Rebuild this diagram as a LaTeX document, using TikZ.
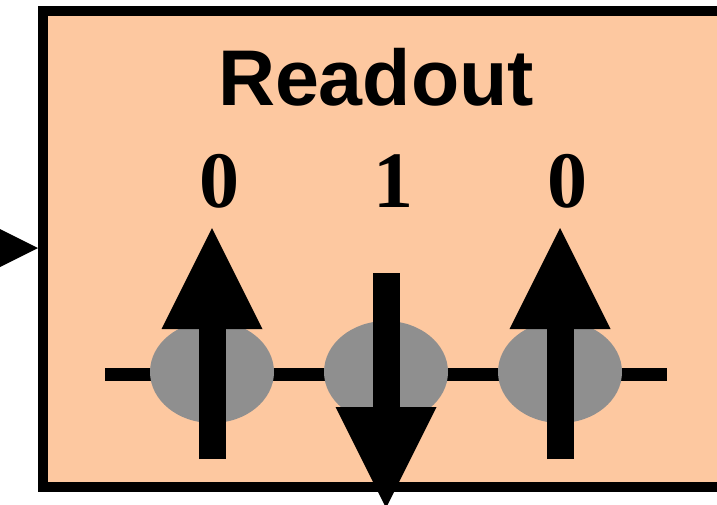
\documentclass[tikz,border=0pt]{standalone}
\usepackage{fontspec}
\newfontfamily\headfont{Liberation Sans}
\newfontfamily\digitfont{Liberation Serif}
\usetikzlibrary{arrows.meta,shapes.geometric}
\definecolor{peach}{RGB}{253,200,160}
\definecolor{spingray}{RGB}{143,143,143}
\tikzset{
  frame/.style={draw=black, line width=10pt, fill=peach},
  spinball/.style={ellipse, fill=spingray, minimum width=124pt, minimum height=102pt, inner sep=0pt},
  spinarrow/.style={line width=27pt, -{Triangle[width=101pt,length=101pt,line width=0pt]}},
  chain/.style={line width=13pt},
  digit/.style={font=\digitfont\bfseries\fontsize{80}{80}\selectfont, inner sep=0pt, anchor=base},
  title/.style={font=\headfont\bfseries\fontsize{79}{79}\selectfont, inner sep=0pt, anchor=base}
}
\begin{document}
\begin{tikzpicture}[x=1pt,y=-1pt]
\useasboundingbox (0,0) rectangle (717,504);
\draw[frame] (43,11) rectangle (724,487);
\node[title] (title) at (376,105) {Readout};
\node[digit] (d1) at (219,207) {0};
\node[digit] (d2) at (393,207) {1};
\node[digit] (d3) at (567,207) {0};
\coordinate (la) at (105,374);
\coordinate (lb) at (667,374);
\draw[chain] (la) -- (lb);
\node[spinball] (s1) at (212,372) {};
\node[spinball] (s2) at (386,372) {};
\node[spinball] (s3) at (560,372) {};
\coordinate (s1b) at (212,459);
\coordinate (s1t) at (212,228);
\coordinate (s2t) at (386,273);
\coordinate (s2b) at (386,508);
\coordinate (s3b) at (560,459);
\coordinate (s3t) at (560,228);
\draw[spinarrow] (s1b) -- (s1t);
\draw[spinarrow] (s2t) -- (s2b);
\draw[spinarrow] (s3b) -- (s3t);
\coordinate (inL) at (-100,248);
\coordinate (inR) at (38,248);
\draw[spinarrow] (inL) -- (inR);
\end{tikzpicture}
\end{document}
